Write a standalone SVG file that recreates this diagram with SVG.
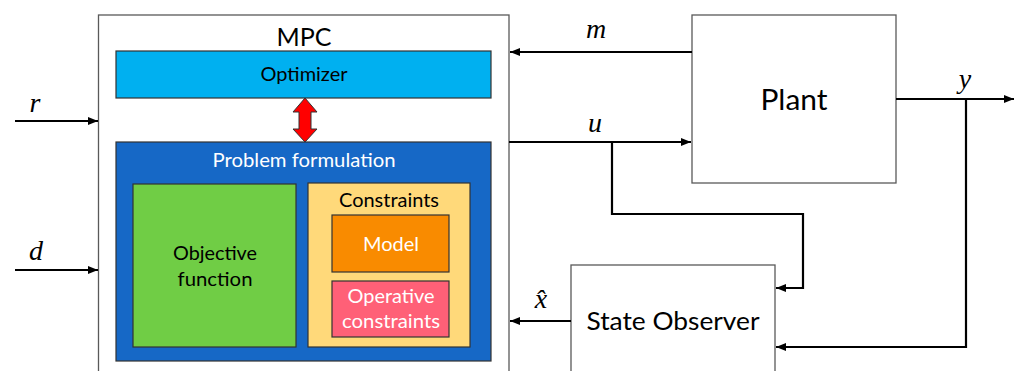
<svg xmlns="http://www.w3.org/2000/svg" width="1017" height="371" viewBox="0 0 1017 371">
<defs>
<marker id="ah" markerUnits="userSpaceOnUse" markerWidth="12" markerHeight="10" refX="10" refY="5" orient="auto">
<path d="M0,1 L10,5 L0,9 Z" fill="#000"/>
</marker>
<style>
.box{fill:#fff;stroke:#595959;stroke-width:1.3}
.t{font-family:Lato,"Open Sans",sans-serif;text-anchor:middle;fill:#000}
.w{fill:#fff}
.m{font-family:"Liberation Serif",serif;font-style:italic;font-size:28px;fill:#000;text-anchor:middle}
.c{fill:none;stroke:#000;stroke-width:2.2;marker-end:url(#ah)}
.in{stroke:#333;stroke-width:1.2}
</style>
</defs>
<rect width="1017" height="371" fill="#fff"/>
<g id="mpc">
<rect class="box" x="98.5" y="15" width="410.5" height="370"/>
<text class="t" x="304" y="46" font-size="25" textLength="55" lengthAdjust="spacingAndGlyphs">MPC</text>
</g>
<g id="optimizer">
<rect x="116" y="51" width="375" height="47" fill="#00B0F0" class="in"/>
<text class="t" x="304" y="81" font-size="19" textLength="87" lengthAdjust="spacingAndGlyphs">Optimizer</text>
</g>
<g id="problem">
<rect x="116" y="142" width="375" height="219" fill="#1668C6" class="in"/>
<text class="t w" x="304" y="167" font-size="19" textLength="183" lengthAdjust="spacingAndGlyphs">Problem formulation</text>
</g>
<g id="objective">
<rect x="133" y="184" width="163" height="163" fill="#70CD45" class="in"/>
<text class="t" x="215" y="260" font-size="20" textLength="84" lengthAdjust="spacingAndGlyphs">Objective</text>
<text class="t" x="215" y="286" font-size="20" textLength="75" lengthAdjust="spacingAndGlyphs">function</text>
</g>
<g id="constraints">
<rect x="308" y="183" width="162" height="164" fill="#FFD97A" class="in"/>
<text class="t" x="389" y="207" font-size="19" textLength="100" lengthAdjust="spacingAndGlyphs">Constraints</text>
</g>
<g id="model">
<rect x="332" y="215" width="117" height="57" fill="#F98B00" class="in"/>
<text class="t w" x="391" y="251" font-size="20" textLength="56" lengthAdjust="spacingAndGlyphs">Model</text>
</g>
<g id="operative">
<rect x="332" y="281" width="117" height="56" fill="#FF6077" class="in"/>
<text class="t w" x="391" y="303" font-size="19" textLength="87" lengthAdjust="spacingAndGlyphs">Operative</text>
<text class="t w" x="391" y="328" font-size="19" textLength="98" lengthAdjust="spacingAndGlyphs">constraints</text>
</g>
<g id="plant">
<rect class="box" x="692" y="15" width="204" height="168"/>
<text class="t" x="794" y="110" font-size="28" textLength="67" lengthAdjust="spacingAndGlyphs">Plant</text>
</g>
<g id="observer">
<rect class="box" x="571" y="265" width="204" height="120"/>
<text class="t" x="673" y="330" font-size="25" textLength="173" lengthAdjust="spacingAndGlyphs">State Observer</text>
</g>
<g id="connectors">
<path d="M305,98 L317,112 L311,112 L311,129 L317,129 L305,142 L293,129 L299,129 L299,112 L293,112 Z" fill="#FF0000" stroke="#333" stroke-width="1"/>
<path class="c" d="M15,121 L98,121"/>
<path class="c" d="M15,270 L98,270"/>
<path class="c" d="M692,52 L510,52"/>
<path class="c" d="M509,142 L691,142"/>
<path class="c" d="M612,142 L612,214 L803,214 L803,288 L776,288"/>
<path class="c" d="M571,321 L510,321"/>
<path class="c" d="M896,99 L1014,99"/>
<path class="c" d="M966,99 L966,347 L776,347"/>
</g>
<g id="labels">
<text class="m" x="35" y="112">r</text>
<text class="m" x="36" y="260">d</text>
<text class="m" x="596" y="38">m</text>
<text class="m" x="595" y="132">u</text>
<text class="m" x="965" y="88">y</text>
<text class="m" x="541" y="308">x&#770;</text>
</g>
</svg>
